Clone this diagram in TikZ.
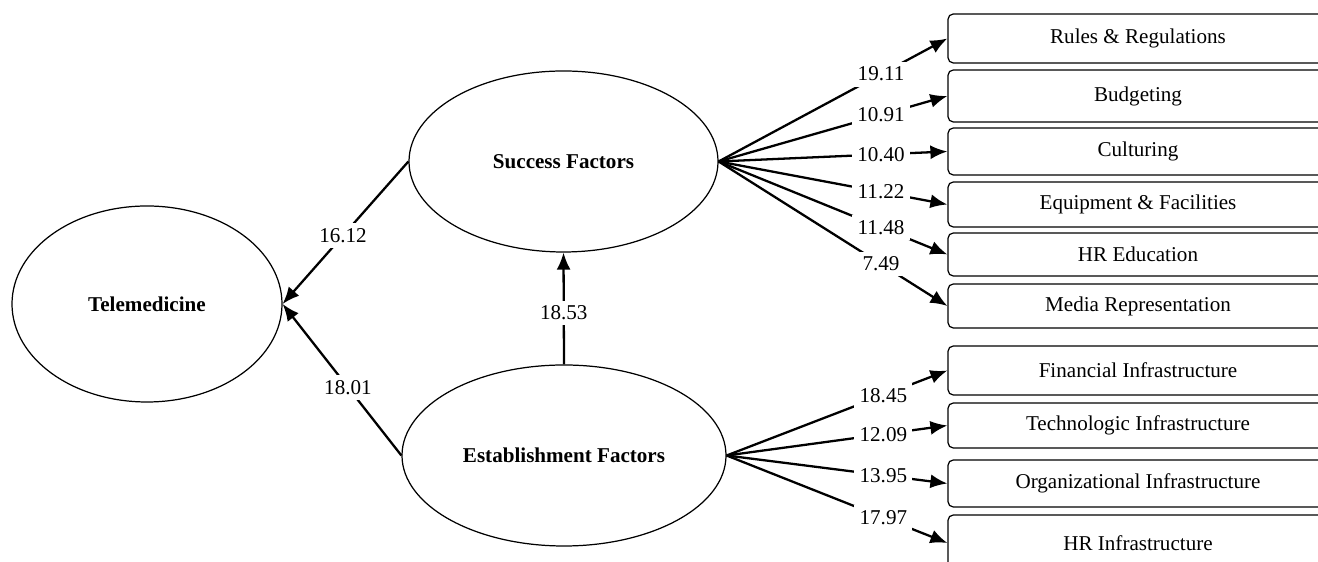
\documentclass[tikz,border=0pt]{standalone}
\usepackage{fontspec}
\setmainfont{Liberation Serif}
\usetikzlibrary{arrows.meta, positioning, shapes.geometric}
\tikzset{
  >=Latex,
  font=\fontsize{12}{14}\selectfont,
  latent/.style={
    ellipse, draw, line width=0.7pt, inner sep=0pt,
    font=\fontsize{12}{14}\selectfont\bfseries
  },
  indic/.style={
    draw, line width=0.7pt, rounded corners=3pt, inner sep=0pt,
    minimum width=7.6cm, minimum height=#1
  },
  arr/.style={-{Latex[length=3.4mm, width=2.8mm]}, line width=1.3pt},
  coef/.style={fill=white, inner sep=3pt, pos=#1},
  coef/.default=0.71
}
\begin{document}
\begin{tikzpicture}
  \path[use as bounding box] (0,0) rectangle (26.36,11.24);
  \clip (0,0) rectangle (26.36,11.24);
  \node[latent, minimum width=5.4cm, minimum height=3.92cm] (tele) at (2.94,5.16) {Telemedicine};
  \node[latent, minimum width=6.18cm, minimum height=3.62cm] (succ) at (11.27,8.01) {Success Factors};
  \node[latent, minimum width=6.48cm, minimum height=3.62cm] (estab) at (11.28,2.13) {Establishment Factors};
  \foreach \n/\y/\h/\txt/\v in {
      s1/10.47/0.98/Rules \& Regulations/19.11,
      s2/9.32/1.04/Budgeting/10.91,
      s3/8.21/0.94/Culturing/10.40,
      s4/7.15/0.90/Equipment \& Facilities/11.22,
      s5/6.15/0.86/HR Education/11.48,
      s6/5.12/0.88/Media Representation/7.49} {
    \node[indic=\h cm] (\n) at (22.76,\y) {\txt};
    \draw[arr] (succ.east) -- node[coef] {\v} (\n.west);
  }
  \foreach \n/\y/\h/\txt/\v in {
      e1/3.83/0.98/Financial Infrastructure/18.45,
      e2/2.73/0.90/Technologic Infrastructure/12.09,
      e3/1.57/0.94/Organizational Infrastructure/13.95,
      e4/0.38/1.12/HR Infrastructure/17.97} {
    \node[indic=\h cm] (\n) at (22.76,\y) {\txt};
    \draw[arr] (estab.east) -- node[coef] {\v} (\n.west);
  }
  \draw[arr] (succ.west) -- node[coef=0.52] {16.12} (tele.east);
  \draw[arr] (estab.west) -- node[coef=0.45] {18.01} (tele.east);
  \draw[arr] (estab.north) -- node[coef=0.46] {18.53} (succ.south);
\end{tikzpicture}
\end{document}
